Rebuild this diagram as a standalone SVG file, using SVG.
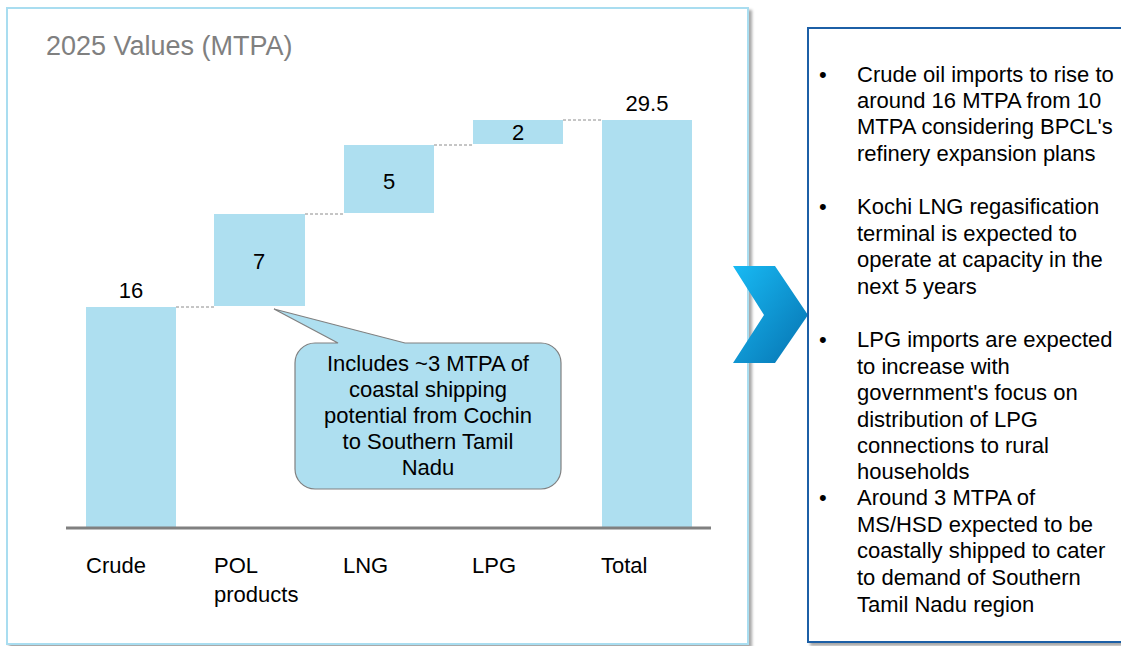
<svg xmlns="http://www.w3.org/2000/svg" width="1121" height="646" viewBox="0 0 1121 646">
  <defs>
    <style>
      text { font-family: "Liberation Sans", Arial, sans-serif; fill: #000; }
      .title { font-size: 27px; fill: #808080; }
      .val { font-size: 22px; text-anchor: middle; }
      .cat { font-size: 22px; }
      .note { font-size: 22px; text-anchor: middle; }
      .bul { font-size: 22px; }
      .bar { fill: #aedff0; }
      .link { stroke: #8c8c8c; stroke-width: 1; stroke-dasharray: 3 2; fill: none; }
    </style>
    <filter id="shadow" x="-5%" y="-5%" width="110%" height="110%">
      <feDropShadow dx="3" dy="3" stdDeviation="1.5" flood-color="#000" flood-opacity="0.35"/>
    </filter>
    <linearGradient id="chev" x1="0" y1="0" x2="1" y2="1">
      <stop offset="0" stop-color="#18baf4"/>
      <stop offset="1" stop-color="#0672b0"/>
    </linearGradient>
  </defs>

  <rect width="1121" height="646" fill="#fff"/>

  <!-- chart panel -->
  <g id="chart-panel">
    <rect x="7" y="8" width="741" height="636" fill="#fff" stroke="#a9ddf0" stroke-width="2" filter="url(#shadow)"/>
    <text class="title" x="46" y="55">2025 Values (MTPA)</text>
  </g>

  <!-- waterfall bars -->
  <g id="bar-crude">
    <rect class="bar" x="86" y="307" width="90" height="221"/>
    <text class="val" x="131" y="298">16</text>
    <text class="cat" x="86" y="573">Crude</text>
  </g>
  <g id="bar-pol">
    <rect class="bar" x="214" y="214" width="91" height="92"/>
    <text class="val" x="259" y="269">7</text>
    <text class="cat" x="214" y="573">POL</text>
    <text class="cat" x="214" y="602">products</text>
  </g>
  <g id="bar-lng">
    <rect class="bar" x="344" y="145" width="90" height="68"/>
    <text class="val" x="389" y="189">5</text>
    <text class="cat" x="343" y="573">LNG</text>
  </g>
  <g id="bar-lpg">
    <rect class="bar" x="473" y="120" width="90" height="24"/>
    <text class="val" x="518" y="140">2</text>
    <text class="cat" x="472" y="573">LPG</text>
  </g>
  <g id="bar-total">
    <rect class="bar" x="602" y="120" width="90" height="408"/>
    <text class="val" x="647" y="111">29.5</text>
    <text class="cat" x="601" y="573">Total</text>
  </g>

  <!-- axis -->
  <g id="axis">
    <line x1="66" y1="528" x2="711" y2="528" stroke="#808080" stroke-width="3"/>
  </g>

  <!-- step connectors between bars -->
  <g id="connectors">
    <line class="link" x1="176" y1="307" x2="214" y2="307"/>
    <line class="link" x1="305" y1="214" x2="344" y2="214"/>
    <line class="link" x1="434" y1="145" x2="473" y2="145"/>
    <line class="link" x1="563" y1="120" x2="602" y2="120"/>
  </g>

  <!-- callout on POL products -->
  <g id="callout">
    <path d="M315 343 L338 343 L274 309 L405 343 L541 343 A20 20 0 0 1 561 363 L561 469 A20 20 0 0 1 541 489 L315 489 A20 20 0 0 1 295 469 L295 363 A20 20 0 0 1 315 343 Z" fill="#aedff0" stroke="#808080" stroke-width="1.2"/>
    <text class="note" x="428" y="371">Includes ~3 MTPA of</text>
    <text class="note" x="428" y="397">coastal shipping</text>
    <text class="note" x="428" y="423">potential from Cochin</text>
    <text class="note" x="428" y="449">to Southern Tamil</text>
    <text class="note" x="428" y="475">Nadu</text>
  </g>

  <!-- chevron -->
  <g id="chevron">
    <polygon points="733,266 775,266 808,315 775,363 733,363 764,315" fill="url(#chev)"/>
  </g>

  <!-- commentary panel -->
  <g id="notes-panel">
    <rect x="808" y="28" width="330" height="614" fill="#fff" stroke="#1f5fa6" stroke-width="2" filter="url(#shadow)"/>
    <g class="bul">
      <text x="819" y="82">•</text>
      <text x="857" y="82">Crude oil imports to rise to</text>
      <text x="857" y="108">around 16 MTPA from 10</text>
      <text x="857" y="134">MTPA considering BPCL's</text>
      <text x="857" y="161">refinery expansion plans</text>

      <text x="819" y="214">•</text>
      <text x="857" y="214">Kochi LNG regasification</text>
      <text x="857" y="241">terminal is expected to</text>
      <text x="857" y="267">operate at capacity in the</text>
      <text x="857" y="294">next 5 years</text>

      <text x="819" y="347">•</text>
      <text x="857" y="347">LPG imports are expected</text>
      <text x="857" y="374">to increase with</text>
      <text x="857" y="400">government's focus on</text>
      <text x="857" y="427">distribution of LPG</text>
      <text x="857" y="453">connections to rural</text>
      <text x="857" y="479">households</text>

      <text x="819" y="505">•</text>
      <text x="857" y="505">Around 3 MTPA of</text>
      <text x="857" y="532">MS/HSD expected to be</text>
      <text x="857" y="558">coastally shipped to cater</text>
      <text x="857" y="585">to demand of Southern</text>
      <text x="857" y="612">Tamil Nadu region</text>
    </g>
  </g>
</svg>
